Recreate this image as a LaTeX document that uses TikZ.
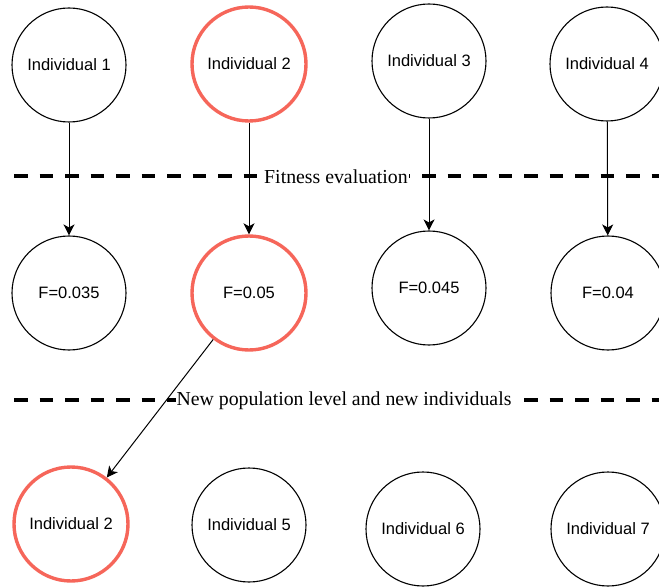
\documentclass[tikz,border=0pt]{standalone}
\usepackage{fontspec}
\setmainfont{Liberation Serif}
\newfontfamily\arialfont{Liberation Sans}
\usetikzlibrary{arrows.meta}
\definecolor{hired}{RGB}{246,102,90}
\begin{document}
\begin{tikzpicture}[x=1pt,y=-1pt,
  ind/.style={circle,draw=black,line width=1.1pt,minimum size=114pt,inner sep=0pt,
    font=\arialfont\fontsize{16.5}{20}\selectfont},
  best/.style={ind,draw=hired,line width=3.4pt},
  sepline/.style={line width=3.6pt,dash pattern=on 13.5pt off 12pt},
  seplabel/.style={fill=white,inner sep=1pt,font=\fontsize{19.8}{22}\selectfont},
  link/.style={line width=1pt,-{Stealth[length=11pt,width=11pt,inset=3pt]}}]
\useasboundingbox (0,0) rectangle (659,588);
\fill[white] (0,0) rectangle (659,588);
% separators
\draw[sepline] (14,176) coordinate (s1a) -- (659,176) coordinate (s1b);
\draw[sepline] (14,400) coordinate (s2a) -- (659,400) coordinate (s2b);
\node[seplabel] (lab1) at (336,177) {Fitness evaluation};
\node[seplabel] (lab2) at (344,401) {New population level and new individuals};
% nodes
\node[ind]  (i1) at (69,65)  {Individual 1};
\node[best] (i2) at (249,64) {Individual 2};
\node[ind]  (i3) at (429,61) {Individual 3};
\node[ind]  (i4) at (607,64) {Individual 4};
\node[ind]  (f1) at (69,293)  {F=0.035};
\node[best] (f2) at (249,293) {F=0.05};
\node[ind]  (f3) at (429,288) {F=0.045};
\node[ind]  (f4) at (608,293) {F=0.04};
\node[best] (n2) at (71,524)  {Individual 2};
\node[ind]  (n5) at (249,525) {Individual 5};
\node[ind]  (n6) at (423,529) {Individual 6};
\node[ind]  (n7) at (608,529) {Individual 7};
% connectors
\draw[link] (i1) -- (f1);
\draw[link] (i2) -- (f2);
\draw[link] (i3) -- (f3);
\draw[link] (i4) -- (f4);
\draw[link] (f2) -- (n2);
\end{tikzpicture}
\end{document}
